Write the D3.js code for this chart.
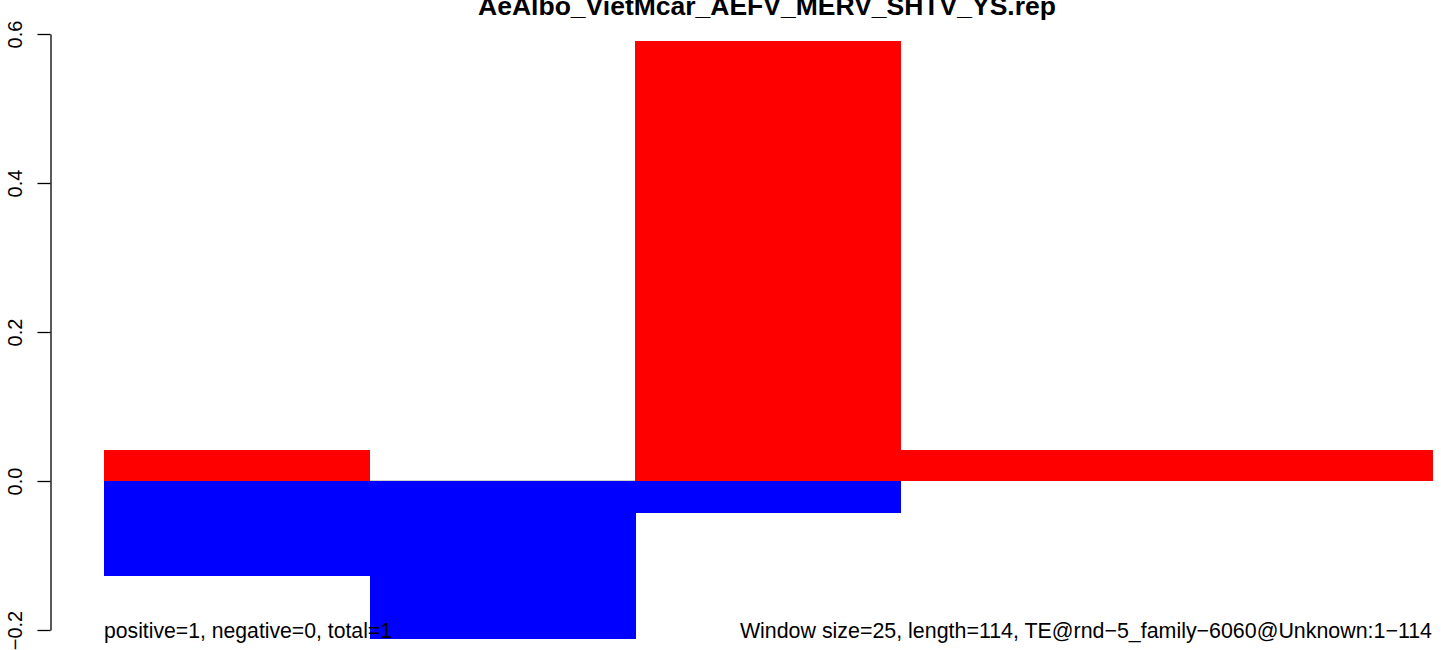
<!DOCTYPE html>
<html>
<head>
<meta charset="utf-8">
<script src="https://cdn.jsdelivr.net/npm/d3@7"></script>
<style>
  html, body { margin: 0; padding: 0; background: #fff; }
  svg { display: block; }
  text { font-family: "Liberation Sans", Arial, Helvetica, sans-serif; fill: #000; }
</style>
</head>
<body>
<script>
// ---- data ----
const windowStarts = [0, 25, 50, 75, 100];
const windowSize = 25;
const positiveValues = [0.042, 0, 0.59, 0.042, 0.042];
const negativeValues = [-0.127, -0.212, -0.043, 0, 0];
const yTicks = [-0.2, 0, 0.2, 0.4, 0.6];
const titleText = "AeAlbo_VietMcar_AEFV_MERV_SHTV_YS.rep";
const leftNote = "positive=1, negative=0, total=1";
const rightNote = "Window size=25, length=114, TE@rnd\u22125_family\u22126060@Unknown:1\u2212114";

const W = 1441, H = 650;
const svg = d3.select("body").append("svg").attr("width", W).attr("height", H);

const x = d3.scaleLinear().domain([0, 125]).range([104, 1432]);
const y = d3.scaleLinear().domain([-0.2, 0.6]).range([630, 34]);

// zero line
svg.append("line")
  .attr("x1", x(0)).attr("x2", x(125))
  .attr("y1", Math.round(y(0)) - 0.5).attr("y2", Math.round(y(0)) - 0.5)
  .attr("stroke", "#d0d0d0").attr("stroke-width", 1);

const rows = windowStarts.map((s, i) => ({ s, pos: positiveValues[i], neg: negativeValues[i] }));

svg.append("g").attr("shape-rendering", "crispEdges")
  .selectAll("rect.pos").data(rows.filter(d => d.pos > 0)).join("rect")
  .attr("x", d => x(d.s)).attr("width", d => x(d.s + windowSize) - x(d.s) + 0.5)
  .attr("y", d => y(d.pos)).attr("height", d => y(0) - y(d.pos))
  .attr("fill", "#ff0000");

svg.append("g").attr("shape-rendering", "crispEdges")
  .selectAll("rect.neg").data(rows.filter(d => d.neg < 0)).join("rect")
  .attr("x", d => x(d.s)).attr("width", d => x(d.s + windowSize) - x(d.s) + 0.5)
  .attr("y", y(0)).attr("height", d => y(d.neg) - y(0))
  .attr("fill", "#0000ff");

// y axis
const axis = svg.append("g").attr("transform", "translate(50.5,0)")
  .call(d3.axisLeft(y).tickValues(yTicks).tickSize(13).tickSizeOuter(0).tickFormat(d3.format(".1f")));
axis.select(".domain").attr("stroke", "#000").attr("stroke-width", 1.3);
axis.selectAll(".tick line").attr("stroke", "#000").attr("stroke-width", 1.3);
axis.selectAll(".tick text")
  .attr("transform", "rotate(-90)")
  .attr("x", 0).attr("y", -29).attr("dy", 0)
  .attr("text-anchor", "middle")
  .style("font-family", "'Liberation Sans', Arial, sans-serif")
  .style("font-size", "20px").attr("fill", "#000");

// title
svg.append("text").attr("x", 767).attr("y", 15)
  .attr("text-anchor", "middle").style("font-weight", "bold").style("font-size", "26.5px")
  .text(titleText);

// notes
svg.append("text").attr("x", 104).attr("y", 638)
  .attr("text-anchor", "start").style("font-size", "21.2px").text(leftNote);
svg.append("text").attr("x", 1432).attr("y", 638)
  .attr("text-anchor", "end").style("font-size", "21.4px").text(rightNote);
</script>
</body>
</html>
